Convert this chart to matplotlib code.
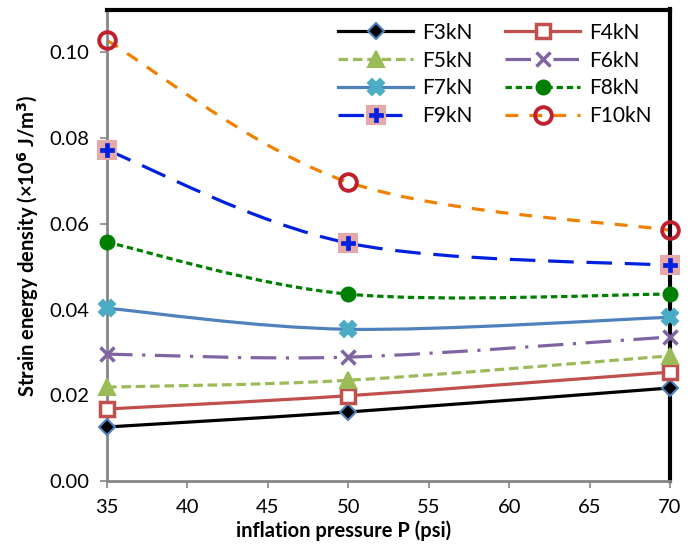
import matplotlib
matplotlib.use("Agg")
import matplotlib.pyplot as plt
from matplotlib.path import Path
from matplotlib.patches import PathPatch
from matplotlib.lines import Line2D
from matplotlib.legend_handler import HandlerTuple

plt.rcParams['font.family'] = ['Lato', 'DejaVu Sans']

# data
pressure = [35, 50, 70]
f3 = [0.0126, 0.0161, 0.0217]
f4 = [0.0168, 0.0199, 0.0254]
f5 = [0.0219, 0.0235, 0.0292]
f6 = [0.0296, 0.0289, 0.0336]
f7 = [0.0403, 0.0354, 0.0382]
f8 = [0.0557, 0.0436, 0.0436]
f9 = [0.0772, 0.0555, 0.0503]
f10 = [0.1028, 0.0697, 0.0585]
labels = ["F3kN", "F4kN", "F5kN", "F6kN", "F7kN", "F8kN", "F9kN", "F10kN"]
series = [f3, f4, f5, f6, f7, f8, f9, f10]

# line colour, dash pattern, marker, marker face, marker edge, marker size, edge width
styles = [
    ("black", "-", "D", "black", "#4f81bd", 8, 1.5),
    ("#c0504d", "-", "s", "white", "#c0504d", 10, 2.5),
    ("#9bbb59", (0, (3, 1.5)), "^", "#9bbb59", "#9bbb59", 11, 1.5),
    ("#8064a2", (0, (8, 3, 1, 3)), "x", "#8064a2", "#8064a2", 10, 2.5),
    ("#4f81bd", "-", "X", "#4bacc6", "#4bacc6", 11, 1.5),
    ("#008000", (0, (2, 1.2)), "o", "#008000", "#008000", 10, 1.5),
    ("#0020e0", (0, (8, 4)), "s", "#e6a9a9", "#e6a9a9", 13, 1.5),
    ("#f08000", (0, (4, 3.5)), "o", "none", "#c0202d", 12, 2.8),
]


def smooth_path(xs, ys):
    # Excel-like smoothed line: cubic bezier through the points
    n = len(xs)
    verts = [(xs[0], ys[0])]
    codes = [Path.MOVETO]
    for i in range(n - 1):
        x0, y0 = xs[max(i - 1, 0)], ys[max(i - 1, 0)]
        x1, y1 = xs[i], ys[i]
        x2, y2 = xs[i + 1], ys[i + 1]
        x3, y3 = xs[min(i + 2, n - 1)], ys[min(i + 2, n - 1)]
        c1 = (x1 + (x2 - x0) / 6.0, y1 + (y2 - y0) / 6.0)
        c2 = (x2 - (x3 - x1) / 6.0, y2 - (y3 - y1) / 6.0)
        verts += [c1, c2, (x2, y2)]
        codes += [Path.CURVE4] * 3
    return Path(verts, codes)


fig = plt.figure(figsize=(6.96, 5.46), dpi=100)
ax = fig.add_axes([107 / 696, 1 - 481 / 546, 563 / 696, 471.5 / 546])

handles = []
for vals, lab, st in zip(series, labels, styles):
    col, ls, mk, mfc, mec, ms, mew = st
    patch = PathPatch(smooth_path(pressure, vals), facecolor="none",
                      edgecolor=col, lw=2.3, linestyle=ls, zorder=2)
    ax.add_patch(patch)
    ax.plot(pressure, vals, linestyle="none", marker=mk, ms=ms, mfc=mfc,
            mec=mec, mew=mew, clip_on=False, zorder=3)
    h = Line2D([], [], color=col, lw=2.3, linestyle=ls, marker=mk, ms=ms,
               mfc=mfc, mec=mec, mew=mew)
    if lab == "F9kN":
        ax.plot(pressure, vals, linestyle="none", marker="P", ms=10,
                mfc="#0020e0", mec="#0020e0", mew=0.5, clip_on=False, zorder=4)
        h2 = Line2D([], [], linestyle="none", marker="P", ms=10,
                    mfc="#0020e0", mec="#0020e0", mew=0.5)
        h = (h, h2)
    handles.append(h)

ax.set_xlim(35, 70)
ax.set_ylim(0, 0.11)
ax.set_xticks(range(35, 71, 5))
ax.set_yticks([0, 0.02, 0.04, 0.06, 0.08, 0.10])
ax.set_yticklabels(["0.00", "0.02", "0.04", "0.06", "0.08", "0.10"])
ax.tick_params(direction="out", length=5, width=1.2, color="#868686",
               labelsize=14.5, pad=8)

for side in ["left", "bottom"]:
    ax.spines[side].set_color("#868686")
    ax.spines[side].set_linewidth(2)
for side in ["top", "right"]:
    ax.spines[side].set_color("black")
    ax.spines[side].set_linewidth(3)

ax.set_xlabel("inflation pressure P (psi)", fontsize=14.5, fontweight="bold")
ax.xaxis.set_label_coords(0.421, -0.083)
ax.set_ylabel(r"Strain energy density (×10$^{\mathbf{6}}$ J/m$^{\mathbf{3}}$)",
              fontsize=14.5, fontweight="bold", labelpad=6)

# order column-wise so rows read F3/F4, F5/F6 ...
order = [0, 2, 4, 6, 1, 3, 5, 7]
ax.legend([handles[i] for i in order], [labels[i] for i in order],
          ncol=2, loc="upper right", bbox_to_anchor=(1.0, 1.012),
          frameon=False, fontsize=15, handlelength=3.6,
          handletextpad=0.4, columnspacing=1.6, labelspacing=0.38,
          handler_map={tuple: HandlerTuple(ndivide=1)})

fig.savefig("out.png", dpi=100)
